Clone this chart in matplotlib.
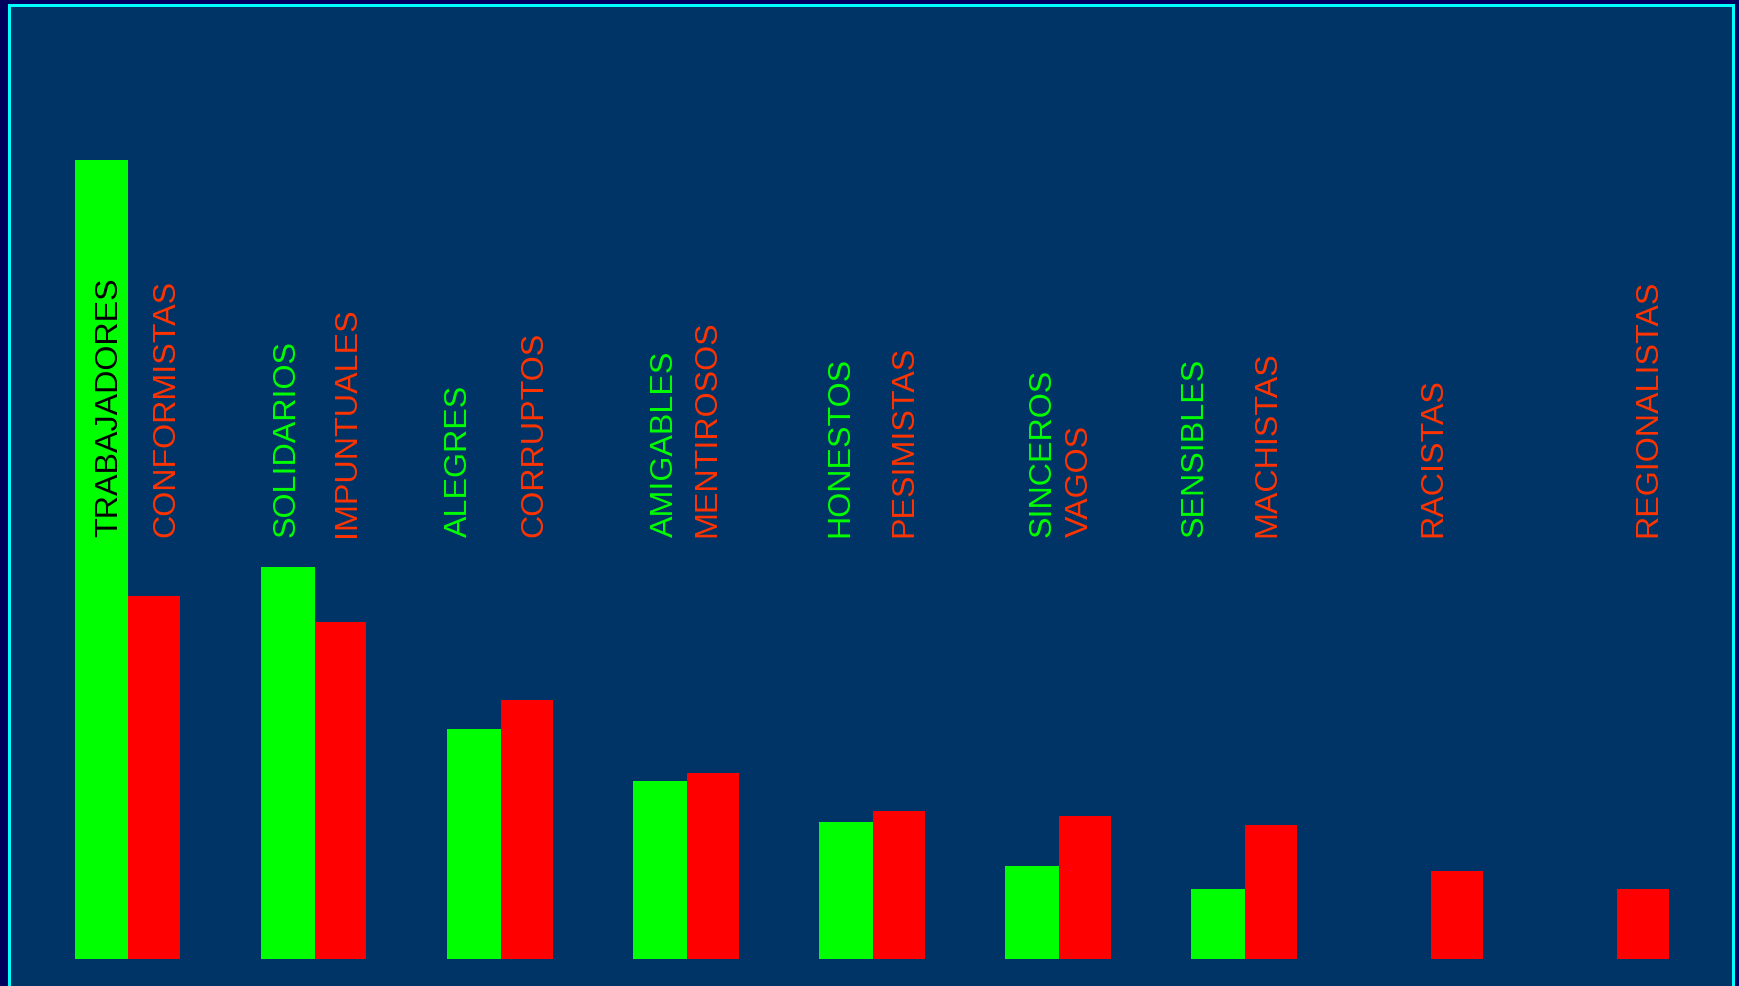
import matplotlib
matplotlib.use("Agg")
import matplotlib.pyplot as plt
from matplotlib.patches import Rectangle

# ---- data ----
positive_labels = ["TRABAJADORES", "SOLIDARIOS", "ALEGRES", "AMIGABLES",
                   "HONESTOS", "SINCEROS", "SENSIBLES"]
positive_values = [79.9, 39.2, 23.0, 17.8, 13.7, 9.3, 7.0]

negative_labels = ["CONFORMISTAS", "IMPUNTUALES", "CORRUPTOS", "MENTIROSOS",
                   "PESIMISTAS", "VAGOS", "MACHISTAS", "RACISTAS", "REGIONALISTAS"]
negative_values = [36.3, 33.7, 25.9, 18.6, 14.8, 14.3, 13.4, 8.8, 7.0]

# label anchor positions along the category axis (in group units)
positive_label_x = [0.175, 1.127, 2.053, 3.156, 4.098, 5.185, 5.998]
negative_label_x = [0.480, 1.452, 2.458, 3.384, 4.439, 5.381, 6.390, 7.279, 8.433]
label_y = 42.3

# ---- style ----
W, H, DPI = 1739, 987, 100
GREEN = "#00ff00"
RED = "#ff0000"
RED_TEXT = "#ff3300"
FILL = "#003366"
OUTER = "#00005e"
CYAN = "#00ffff"
gw, rw = 0.29, 0.279
pitch = 186.1
x_shift = 0.013

fig = plt.figure(figsize=(W / DPI, H / DPI), dpi=DPI, facecolor=OUTER)

frame = Rectangle((8.5 / W, -10 / H), 1724 / W, (H - 5.5 + 10) / H,
                  transform=fig.transFigure, facecolor=FILL, edgecolor=CYAN,
                  linewidth=3 * 72 / DPI, zorder=-1)
fig.add_artist(frame)

ax = fig.add_axes([0, 0, 1, 1])
ax.set_facecolor("none")
ax.axis("off")

gx = list(range(len(positive_values)))
rx = [i + gw for i in range(len(negative_values))]
ax.bar(gx, positive_values, width=gw, align="edge", color=GREEN, linewidth=0)
ax.bar(rx, negative_values, width=rw, align="edge", color=RED, linewidth=0)

ax.set_xlim(-74.5 / pitch, (W - 74.5) / pitch)
ax.set_ylim(-2.7, 96.0)

font = dict(family=["Liberation Sans", "DejaVu Sans"], size=23.2,
            rotation=90, ha="center", va="bottom")
for i, (lab, x) in enumerate(zip(positive_labels, positive_label_x)):
    ax.text(x * 186.3 / pitch + x_shift, label_y, lab,
            color="black" if i == 0 else GREEN, **font)
for lab, x in zip(negative_labels, negative_label_x):
    ax.text(x * 186.3 / pitch + x_shift, label_y, lab, color=RED_TEXT, **font)

fig.savefig("out.png", dpi=DPI, facecolor=OUTER)
